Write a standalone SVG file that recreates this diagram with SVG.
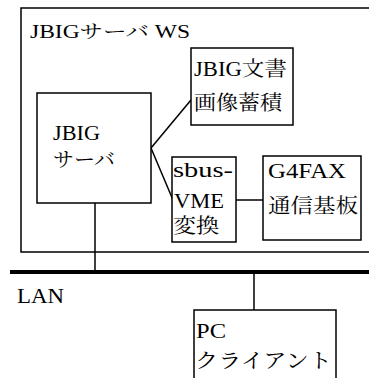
<svg xmlns="http://www.w3.org/2000/svg" width="369" height="378" viewBox="0 0 369 378">
<style>
.b{fill:#fff;stroke:#000;stroke-width:1.5}
.l{stroke:#000;stroke-width:1.5;fill:none}
</style>
<rect width="369" height="378" fill="#fff"/>
<g id="ws">
<path class="l" d="M370,8 H21 V252 H370"/>
<text x="30" y="38" font-family="'Liberation Serif', 'Noto Serif CJK JP', serif" font-size="18" textLength="160" lengthAdjust="spacingAndGlyphs">JBIGサーバ WS</text>
</g>
<g id="connectors">
<line class="l" x1="151" y1="148" x2="191" y2="100"/>
<line class="l" x1="151" y1="148" x2="173" y2="200"/>
<line class="l" x1="236" y1="200" x2="263" y2="200"/>
<line class="l" x1="95" y1="203" x2="95" y2="272"/>
<line class="l" x1="254" y1="272" x2="254" y2="310"/>
<line x1="10" y1="272" x2="369" y2="272" stroke="#000" stroke-width="4"/>
</g>
<g id="server">
<rect class="b" x="37" y="93" width="114" height="110"/>
<text x="53" y="140" font-family="'Liberation Serif', 'Noto Serif CJK JP', serif" font-size="20" textLength="47" lengthAdjust="spacingAndGlyphs">JBIG</text>
<text x="53" y="167" font-family="'Liberation Serif', 'Noto Serif CJK JP', serif" font-size="20" textLength="62" lengthAdjust="spacingAndGlyphs">サーバ</text>
</g>
<g id="store">
<rect class="b" x="191" y="48" width="102" height="77"/>
<text x="194" y="76" font-family="'Liberation Serif', 'Noto Serif CJK JP', serif" font-size="20" textLength="93" lengthAdjust="spacingAndGlyphs">JBIG文書</text>
<text x="194" y="110" font-family="'Liberation Serif', 'Noto Serif CJK JP', serif" font-size="20" textLength="88" lengthAdjust="spacingAndGlyphs">画像蓄積</text>
</g>
<g id="sbus">
<rect class="b" x="172" y="157" width="64" height="85"/>
<text x="173" y="177" font-family="'Liberation Serif', 'Noto Serif CJK JP', serif" font-size="20" textLength="60" lengthAdjust="spacingAndGlyphs">sbus-</text>
<text x="174" y="208" font-family="'Liberation Serif', 'Noto Serif CJK JP', serif" font-size="20" textLength="50" lengthAdjust="spacingAndGlyphs">VME</text>
<text x="173" y="233" font-family="'Liberation Serif', 'Noto Serif CJK JP', serif" font-size="20" textLength="46" lengthAdjust="spacingAndGlyphs">変換</text>
</g>
<g id="g4fax">
<rect class="b" x="263" y="156" width="98" height="84"/>
<text x="268" y="178" font-family="'Liberation Serif', 'Noto Serif CJK JP', serif" font-size="20" textLength="78" lengthAdjust="spacingAndGlyphs">G4FAX</text>
<text x="268" y="213" font-family="'Liberation Serif', 'Noto Serif CJK JP', serif" font-size="20" textLength="90" lengthAdjust="spacingAndGlyphs">通信基板</text>
</g>
<g id="lan">
<text x="17" y="303" font-family="'Liberation Serif', 'Noto Serif CJK JP', serif" font-size="20" textLength="47" lengthAdjust="spacingAndGlyphs">LAN</text>
</g>
<g id="pc">
<path class="b" d="M194,380 V310 H336 V380"/>
<text x="196" y="338" font-family="'Liberation Serif', 'Noto Serif CJK JP', serif" font-size="20" textLength="30" lengthAdjust="spacingAndGlyphs">PC</text>
<text x="195" y="368" font-family="'Liberation Serif', 'Noto Serif CJK JP', serif" font-size="20" textLength="137" lengthAdjust="spacingAndGlyphs">クライアント</text>
</g>
</svg>
